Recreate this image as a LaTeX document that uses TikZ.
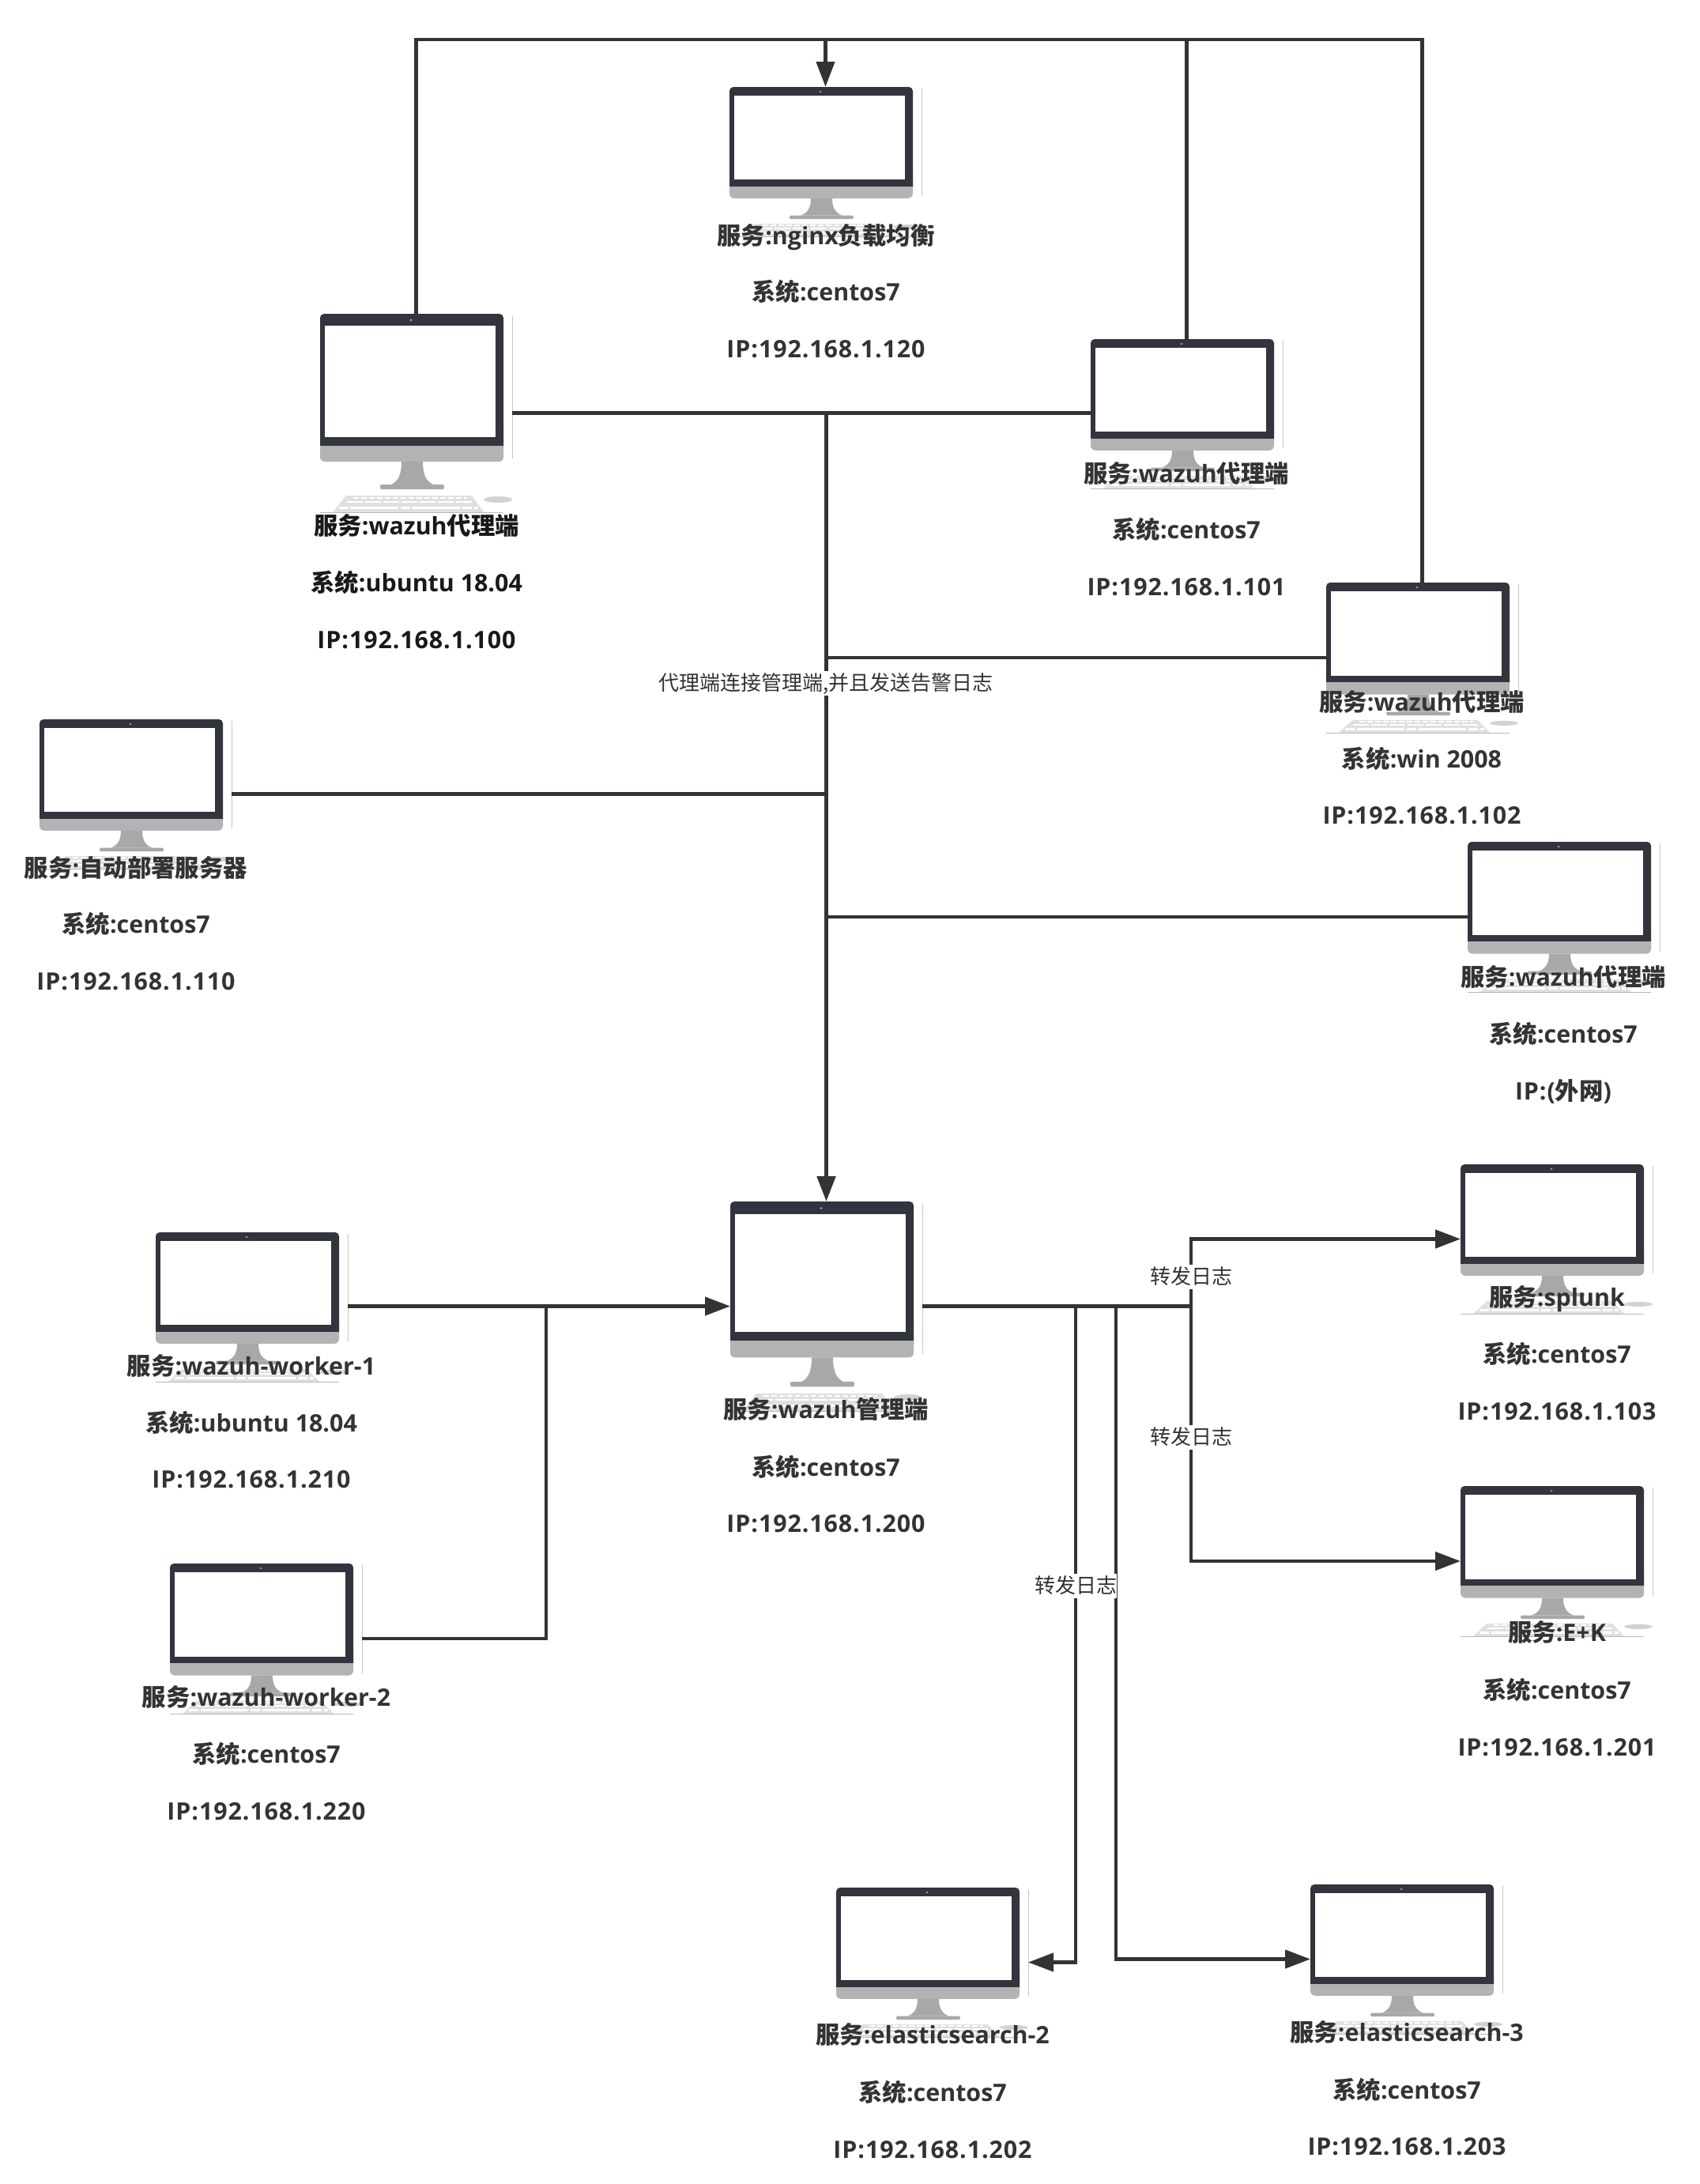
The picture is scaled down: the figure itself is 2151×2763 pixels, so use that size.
\documentclass[tikz,border=0pt]{standalone}
\usepackage{fontspec}
\setmainfont{Open Sans}
\newfontfamily\cjkfont{Noto Sans CJK SC}
\newfontfamily\ipfont[LetterSpace=3]{Open Sans}
\usetikzlibrary{arrows.meta}
\definecolor{bezel}{HTML}{32343E}
\definecolor{chin}{HTML}{B3B3B3}
\definecolor{standc}{HTML}{A8A8A8}
\definecolor{kbd}{HTML}{E0E0E0}
\definecolor{wirec}{HTML}{333333}
\definecolor{textc}{HTML}{333333}
\newcommand{\cj}[1]{{\cjkfont #1}}
\tikzset{
  monbox/.style={inner sep=0pt,outer sep=0pt,minimum width=243pt,anchor=north west},
  conn/.style={draw=wirec,line width=4.4pt},
  connarrow/.style={conn,-{Triangle[length=32pt,width=23pt]},shorten >=0pt},
  moninfo/.style={inner sep=0pt,text height=26pt,text depth=4pt,font=\fontsize{30.4pt}{36pt}\selectfont\bfseries},
  note/.style={fill=white,inner sep=0pt,text=textc,text height=25pt,text depth=6pt,font=\fontsize{26pt}{30pt}\selectfont\cjkfont}
}
% name, left, top, height
\newcommand{\monitor}[4]{%
  \node[monbox,minimum height=#4 pt] (#1) at (#2,#3) {};
  \begin{scope}[shift={(#2,#3)},yscale=#4/251]
    \fill[chin,rounded corners=6pt] (0,140) rectangle (232,187);
    \fill[bezel,rounded corners=5pt] (0,0) -- (0,175) -- (232,175) -- (232,0) -- cycle;
    \fill[chin] (0,167) rectangle (232,178);
    \fill[white] (6,15) rectangle (222,156);
    \fill[gray!75] (115,8) circle[radius=1.6pt];
    \fill[standc] (103,187) .. controls (103,205) and (98,212) .. (90,216) -- (143,216) .. controls (135,212) and (130,205) .. (130,187) -- cycle;
    \fill[standc,rounded corners=2pt] (76,216) rectangle (157,222);
    \fill[kbd] (33,230) -- (192,230) -- (207,251) -- (16,251) -- cycle;
    \draw[white,line width=2pt,dash pattern=on 7pt off 3pt] (42,233) -- (186,233);
    \draw[white,line width=2pt,dash pattern=on 20pt off 3pt] (34,238) -- (192,238);
    \draw[white,line width=3pt,dash pattern=on 12pt off 3pt on 60pt off 3pt] (24,245) -- (200,245);
    \fill[kbd!85!gray] (225,235) ellipse[x radius=18pt,y radius=4pt];
    \draw[gray!45,line width=.8pt] (243,3) -- (243,183);
    \draw[gray!55,line width=.7pt] (0,251) -- (232,251);
  \end{scope}
}
% name, centre x, y1, y2, y3, text1, text2, text3, colour
\newcommand{\monlabel}[9]{%
  \node[moninfo,text=#9] (#1a) at (#2,#3) {#6};
  \node[moninfo,text=#9] (#1b) at (#2,#4) {#7};
  \node[moninfo,text=#9] (#1c) at (#2,#5) {{\ipfont #8}};
}
\begin{document}
\begin{tikzpicture}[x=1pt,y=-1pt]
\fill[white] (0,0) rectangle (2151,2763);
\useasboundingbox (0,0) rectangle (2151,2763);
\monitor{nginx}{923}{110}{189}
\monitor{ubuntu}{405}{397}{251}
\monitor{aone}{1380}{429}{189}
\monitor{win}{1678}{737}{190}
\monitor{deploy}{50}{910}{189}
\monitor{outer}{1857}{1065}{190}
\monitor{manager}{924}{1520}{265}
\monitor{workerone}{197}{1559}{189}
\monitor{workertwo}{215}{1978}{190}
\monitor{splunk}{1848}{1473}{189}
\monitor{ek}{1848}{1880}{190}
\monitor{estwo}{1058}{2388}{189}
\monitor{esthree}{1658}{2384}{189}
% top bus
\coordinate (bus) at (nginx.north |- 0,50);
\draw[conn] (ubuntu.north) |- (bus);
\draw[conn] (aone.north) |- (bus);
\draw[conn] (win.north) |- (bus);
\draw[connarrow] (bus) -- (nginx.north);
% central hub
\coordinate (hub) at (manager.north |- ubuntu.east);
\draw[conn] (ubuntu.east) -- (aone.west |- ubuntu.east);
\draw[connarrow,line width=5pt] (hub) -- (manager.north);
\draw[conn] (win.west) -- (manager.north |- win.west);
\draw[conn] (deploy.east) -- (manager.north |- deploy.east);
\draw[conn] (outer.west) -- (manager.north |- outer.west);
% workers
\coordinate (wj) at (691,0 |- manager.west);
\draw[connarrow] (workerone.east |- manager.west) -- (manager.west);
\draw[conn] (workertwo.east) -| (wj);
% forwarding
\coordinate (fa) at (1507,0 |- manager.east);
\coordinate (fb) at (1361,0 |- manager.east);
\coordinate (fc) at (1412,0 |- manager.east);
\draw[conn] (manager.east) -- (fa);
\draw[connarrow] (fa) |- (splunk.west);
\draw[connarrow] (fa) |- (ek.west);
\draw[connarrow] (fb) |- (estwo.east);
\draw[connarrow] (fc) |- (esthree.west);
% edge labels
\node[note] (lhub) at (1045,864) {代理端连接管理端,并且发送告警日志};
\node[note] (lfa) at (1507,1615) {转发日志};
\node[note] (lfb) at (1507,1818) {转发日志};
\node[note] (lfc) at (1361,2006) {转发日志};
% monitor labels
\monlabel{tnginx}{1045}{298}{369}{441}{\cj{服务}:nginx\cj{负载均衡}}{\cj{系统}:centos7}{IP:192.168.1.120}{textc}
\monlabel{tubuntu}{527}{665}{737}{809}{\cj{服务}:wazuh\cj{代理端}}{\cj{系统}:ubuntu 18.04}{IP:192.168.1.100}{black!90}
\monlabel{taone}{1501}{599}{670}{742}{\cj{服务}:wazuh\cj{代理端}}{\cj{系统}:centos7}{IP:192.168.1.101}{textc}
\monlabel{twin}{1799}{888}{960}{1031}{\cj{服务}:wazuh\cj{代理端}}{\cj{系统}:win 2008}{IP:192.168.1.102}{textc}
\monlabel{tdeploy}{172}{1098}{1169}{1241}{\cj{服务}:\cj{自动部署服务器}}{\cj{系统}:centos7}{IP:192.168.1.110}{textc}
\monlabel{touter}{1978}{1236}{1308}{1380}{\cj{服务}:wazuh\cj{代理端}}{\cj{系统}:centos7}{IP:(\cj{外网})}{textc}
\monlabel{tmanager}{1045}{1783}{1856}{1927}{\cj{服务}:wazuh\cj{管理端}}{\cj{系统}:centos7}{IP:192.168.1.200}{textc}
\monlabel{tworkerone}{318}{1728}{1800}{1871}{\cj{服务}:wazuh-worker-1}{\cj{系统}:ubuntu 18.04}{IP:192.168.1.210}{textc}
\monlabel{tworkertwo}{337}{2147}{2219}{2291}{\cj{服务}:wazuh-worker-2}{\cj{系统}:centos7}{IP:192.168.1.220}{textc}
\monlabel{tsplunk}{1970}{1641}{1713}{1785}{\cj{服务}:splunk}{\cj{系统}:centos7}{IP:192.168.1.103}{textc}
\monlabel{tek}{1970}{2065}{2138}{2210}{\cj{服务}:E+K}{\cj{系统}:centos7}{IP:192.168.1.201}{textc}
\monlabel{testwo}{1180}{2574}{2647}{2719}{\cj{服务}:elasticsearch-2}{\cj{系统}:centos7}{IP:192.168.1.202}{textc}
\monlabel{testhree}{1780}{2571}{2644}{2715}{\cj{服务}:elasticsearch-3}{\cj{系统}:centos7}{IP:192.168.1.203}{textc}
\end{tikzpicture}
\end{document}
